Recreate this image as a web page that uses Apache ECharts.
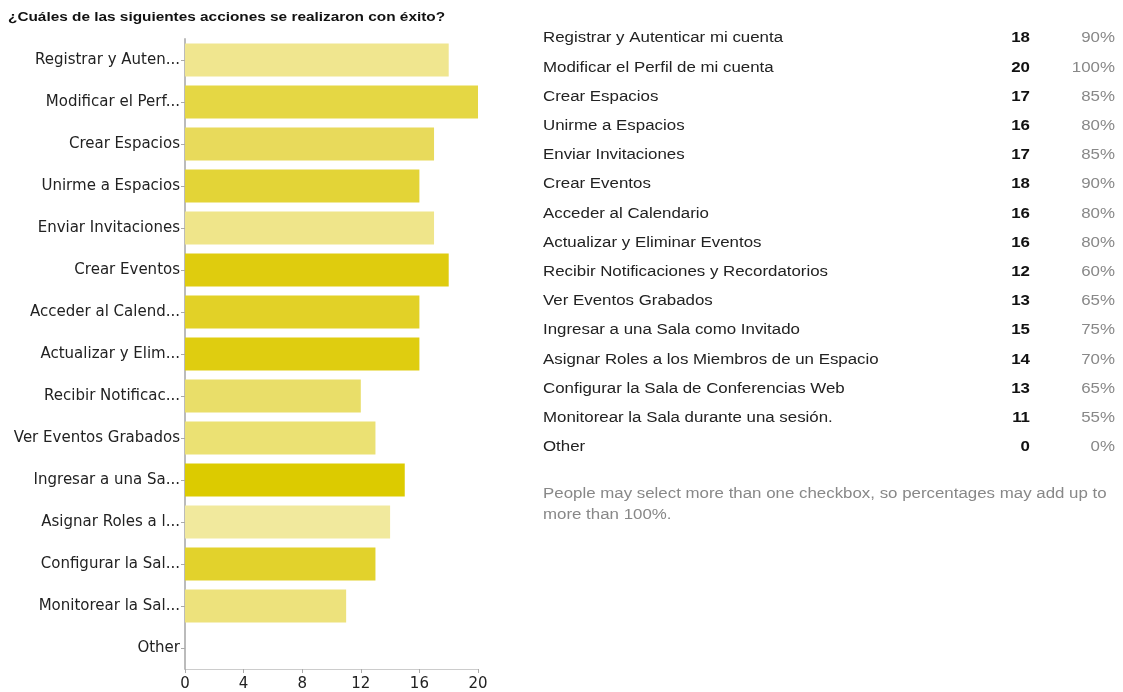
<!DOCTYPE html>
<html>
<head>
<meta charset="utf-8">
<script src="https://cdn.jsdelivr.net/npm/echarts@6/dist/echarts.min.js"></script>
<style>
html,body{margin:0;padding:0;background:#fff;}
#c{width:1123px;height:692px;}
</style>
</head>
<body>
<div id="c"></div>
<script>
var title = '¿Cuáles de las siguientes acciones se realizaron con éxito?';
var axisLabels = ['Registrar y Auten...','Modificar el Perf...','Crear Espacios','Unirme a Espacios','Enviar Invitaciones','Crear Eventos','Acceder al Calend...','Actualizar y Elim...','Recibir Notificac...','Ver Eventos Grabados','Ingresar a una Sa...','Asignar Roles a l...','Configurar la Sal...','Monitorear la Sal...','Other'];
var fullNames = ['Registrar y Autenticar mi cuenta','Modificar el Perfil de mi cuenta','Crear Espacios','Unirme a Espacios','Enviar Invitaciones','Crear Eventos','Acceder al Calendario','Actualizar y Eliminar Eventos','Recibir Notificaciones y Recordatorios','Ver Eventos Grabados','Ingresar a una Sala como Invitado','Asignar Roles a los Miembros de un Espacio','Configurar la Sala de Conferencias Web','Monitorear la Sala durante una sesión.','Other'];
var counts = [18,20,17,16,17,18,16,16,12,13,15,14,13,11,0];
var percents = ['90%','100%','85%','80%','85%','90%','80%','80%','60%','65%','75%','70%','65%','55%','0%'];
var barColors = ['#f0e68f','#e5d744','#e8da5b','#e3d437','#efe58a','#dfcc0e','#e2d127','#dfcd10','#e9de69','#ebe173','#dccb00','#f1e99d','#e2d22c','#ede27c','#e5d744'];
var xTicks = [0,4,8,12,16,20];
var footnote = ['People may select more than one checkbox, so percentages may add up to','more than 100%.'];

var chart = echarts.init(document.getElementById('c'), null, {renderer:'canvas'});
var FONT = 'Liberation Sans, Arial, sans-serif';
var AXFONT = 'DejaVu Sans, sans-serif';
var SX = 1.205;

var graphics = [{
  type:'text', x:8, y:18, scaleX:1.28,
  style:{text:title, font:'bold 12px ' + FONT, fill:'#111', textVerticalAlign:'middle', textAlign:'left'}
}];
var rowTop = 38.5, rowStep = 29.2;
for (var i = 0; i < fullNames.length; i++) {
  var y = rowTop + i * rowStep;
  graphics.push({type:'text', x:543, y:y, scaleX:SX, style:{text:fullNames[i], font:'14px ' + FONT, fill:'#222', textVerticalAlign:'middle', textAlign:'left'}});
  graphics.push({type:'text', x:1030, y:y, scaleX:SX, style:{text:String(counts[i]), font:'bold 14px ' + FONT, fill:'#111', textVerticalAlign:'middle', textAlign:'right'}});
  graphics.push({type:'text', x:1115, y:y, scaleX:SX, style:{text:percents[i], font:'14px ' + FONT, fill:'#888', textVerticalAlign:'middle', textAlign:'right'}});
}
for (var j = 0; j < footnote.length; j++) {
  graphics.push({type:'text', x:543, y:494.5 + j*21, scaleX:SX, style:{text:footnote[j], font:'14px ' + FONT, fill:'#888', textVerticalAlign:'middle', textAlign:'left'}});
}

chart.setOption({
  backgroundColor:'#fff',
  animation:false,
  textStyle:{fontFamily:FONT},
  grid:{left:185, top:39, width:293, height:630, containLabel:false},
  xAxis:{
    type:'value', min:xTicks[0], max:xTicks[xTicks.length-1], interval:4,
    axisLine:{show:true, lineStyle:{color:'#ccc', width:1}},
    axisTick:{show:true, length:4, lineStyle:{color:'#aaa'}},
    splitLine:{show:false},
    axisLabel:{color:'#222', fontSize:15, margin:8, fontFamily:AXFONT}
  },
  yAxis:{
    type:'category', inverse:true, data:axisLabels,
    axisLine:{show:true, lineStyle:{color:'#bbb', width:2}},
    axisTick:{show:true, alignWithLabel:true, length:4, lineStyle:{color:'#aaa'}},
    axisLabel:{color:'#222', fontSize:15, margin:5, fontFamily:AXFONT}
  },
  series:[{
    type:'bar',
    data:counts.map(function(v,i){return {value:v, itemStyle:{color:barColors[i]}};}),
    barCategoryGap:'21%',
    silent:true
  }],
  graphic:graphics
});
</script>
</body>
</html>
